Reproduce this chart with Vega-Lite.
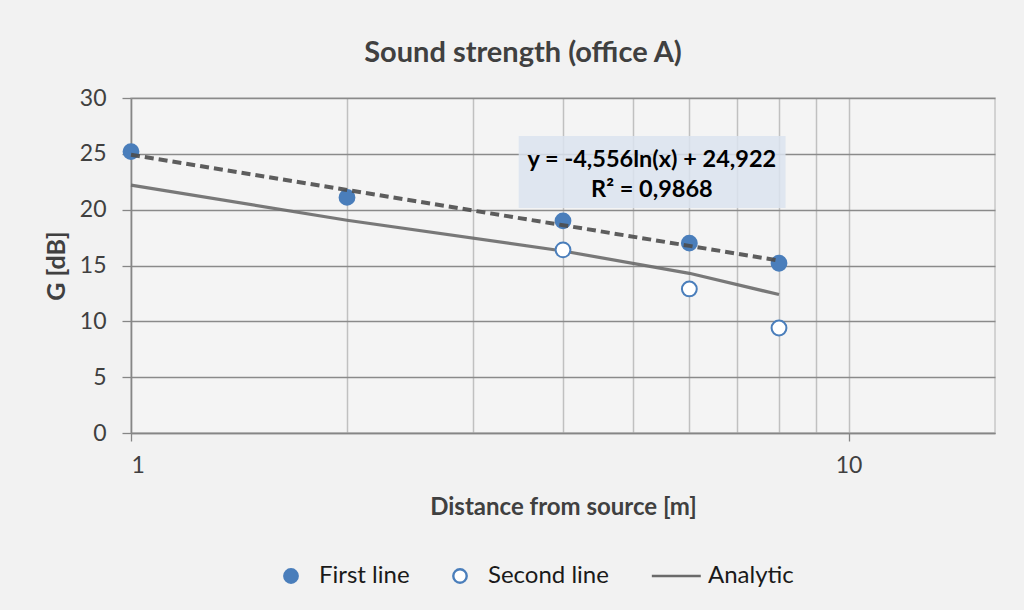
{
  "$schema": "https://vega.github.io/schema/vega-lite/v6.json",
  "width": 864,
  "height": 335,
  "autosize": "none",
  "padding": {"left": 131, "top": 98, "right": 29, "bottom": 177},
  "background": "#f2f2f2",
  "config": {
    "font": "Lato",
    "view": {"stroke": "#c8c8c8", "strokeWidth": 1.5, "fill": "#f4f4f4"},
    "legend": {
      "title": null,
      "orient": "none",
      "direction": "horizontal",
      "legendX": 148,
      "legendY": 466,
      "labelFontSize": 24,
      "labelColor": "#1a1a1a",
      "symbolSize": 180,
      "symbolStrokeWidth": 2.4,
      "columnPadding": 38,
      "labelOffset": 16,
      "symbolOpacity": 1
    }
  },
  "title": {
    "text": "Sound strength (office A)",
    "fontSize": 29,
    "fontWeight": "bold",
    "color": "#404040",
    "offset": 19,
    "dx": -40
  },
  "datasets": {
    "measured": [
      {"distance": 1, "G": 25.2, "series": "First line"},
      {"distance": 2, "G": 21.1, "series": "First line"},
      {"distance": 4, "G": 19.0, "series": "First line"},
      {"distance": 6, "G": 17.0, "series": "First line"},
      {"distance": 8, "G": 15.2, "series": "First line"},
      {"distance": 4, "G": 16.4, "series": "Second line"},
      {"distance": 6, "G": 12.9, "series": "Second line"},
      {"distance": 8, "G": 9.4, "series": "Second line"}
    ],
    "analytic": [
      {"distance": 1, "G": 22.2, "series": "Analytic"},
      {"distance": 2, "G": 19.05, "series": "Analytic"},
      {"distance": 4, "G": 16.3, "series": "Analytic"},
      {"distance": 6, "G": 14.3, "series": "Analytic"},
      {"distance": 8, "G": 12.4, "series": "Analytic"}
    ],
    "trend": [
      {"distance": 1, "G": 24.922},
      {"distance": 2, "G": 21.764},
      {"distance": 4, "G": 18.606},
      {"distance": 6, "G": 16.759},
      {"distance": 8, "G": 15.448}
    ],
    "label": [
      {"x0": 3.47, "x1": 8.17, "y0": 20.15, "y1": 26.6, "xm": 5.32, "l1": 24.45, "l2": 21.75,
       "eq": "y = -4,556ln(x) + 24,922", "r2": "R² = 0,9868"}
    ]
  },
  "encoding": {
    "x": {
      "field": "distance",
      "type": "quantitative",
      "scale": {"type": "log", "domain": [1, 16], "nice": false},
      "axis": {
        "values": [1, 2, 3, 4, 5, 6, 7, 8, 9, 10],
        "labelExpr": "datum.value == 1 || datum.value == 10 ? datum.value : ''",
        "grid": true,
        "gridColor": "#c0c0c0",
        "gridWidth": 1.5,
        "domainColor": "#868686",
        "domainWidth": 1.5,
        "tickColor": {"condition": {"test": "datum.value == 1 || datum.value == 10", "value": "#868686"}, "value": "transparent"},
        "tickSize": 8,
        "tickWidth": 1.3,
        "labelFontSize": 23,
        "labelColor": "#404040",
        "labelPadding": 13,
        "title": "Distance from source [m]",
        "titleFontSize": 24,
        "titleFontWeight": "bold",
        "titleColor": "#404040",
        "titlePadding": 18
      }
    },
    "y": {
      "field": "G",
      "type": "quantitative",
      "scale": {"domain": [0, 30], "nice": false},
      "axis": {
        "values": [0, 5, 10, 15, 20, 25, 30],
        "grid": true,
        "gridColor": "#8a8a8a",
        "gridWidth": 1.4,
        "domainColor": "#868686",
        "domainWidth": 1.5,
        "tickColor": "#868686",
        "tickSize": 9,
        "tickWidth": 1.3,
        "labelFontSize": 23,
        "labelColor": "#404040",
        "labelPadding": 16,
        "title": "G [dB]",
        "titleFontSize": 25,
        "titleFontWeight": "bold",
        "titleColor": "#404040",
        "titlePadding": 10
      }
    }
  },
  "layer": [
    {
      "data": {"name": "label"},
      "mark": {"type": "rect", "fill": "#dbe3ee", "opacity": 0.85},
      "encoding": {
        "x": {"field": "x0", "type": "quantitative"},
        "x2": {"field": "x1"},
        "y": {"field": "y0", "type": "quantitative"},
        "y2": {"field": "y1"}
      }
    },
    {
      "data": {"name": "analytic"},
      "mark": {"type": "line", "strokeWidth": 3.2, "opacity": 0.9},
      "encoding": {
        "stroke": {"field": "series", "type": "nominal",
          "scale": {"domain": ["First line", "Second line", "Analytic"], "range": ["#4a7ebb", "#4a7ebb", "#6a6a6a"]}}
      }
    },
    {
      "data": {"name": "measured"},
      "mark": {"type": "point", "size": 220, "filled": false, "strokeWidth": 2, "opacity": 1},
      "encoding": {
        "fill": {"field": "series", "type": "nominal",
          "scale": {"domain": ["First line", "Second line", "Analytic"], "range": ["#4a7ebb", "#ffffff", "#7a7a7a"]}},
        "stroke": {"field": "series", "type": "nominal",
          "scale": {"domain": ["First line", "Second line", "Analytic"], "range": ["#4a7ebb", "#4a7ebb", "#6a6a6a"]}},
        "shape": {"field": "series", "type": "nominal",
          "scale": {"domain": ["First line", "Second line", "Analytic"], "range": ["circle", "circle", "M-4.2,0H3.1"]}},
        "order": {"field": "series", "sort": "descending"}
      }
    },
    {
      "data": {"name": "trend"},
      "mark": {"type": "line", "stroke": "#4d4d4d", "strokeWidth": 4, "strokeDash": [9, 5], "opacity": 0.9},
      "encoding": {}
    },
    {
      "data": {"name": "label"},
      "mark": {"type": "text", "fontSize": 23.5, "fontWeight": "bold", "color": "#000000"},
      "encoding": {
        "x": {"field": "xm", "type": "quantitative"},
        "y": {"field": "l1", "type": "quantitative"},
        "text": {"field": "eq"}
      }
    },
    {
      "data": {"name": "label"},
      "mark": {"type": "text", "fontSize": 23.5, "fontWeight": "bold", "color": "#000000"},
      "encoding": {
        "x": {"field": "xm", "type": "quantitative"},
        "y": {"field": "l2", "type": "quantitative"},
        "text": {"field": "r2"}
      }
    }
  ]
}
